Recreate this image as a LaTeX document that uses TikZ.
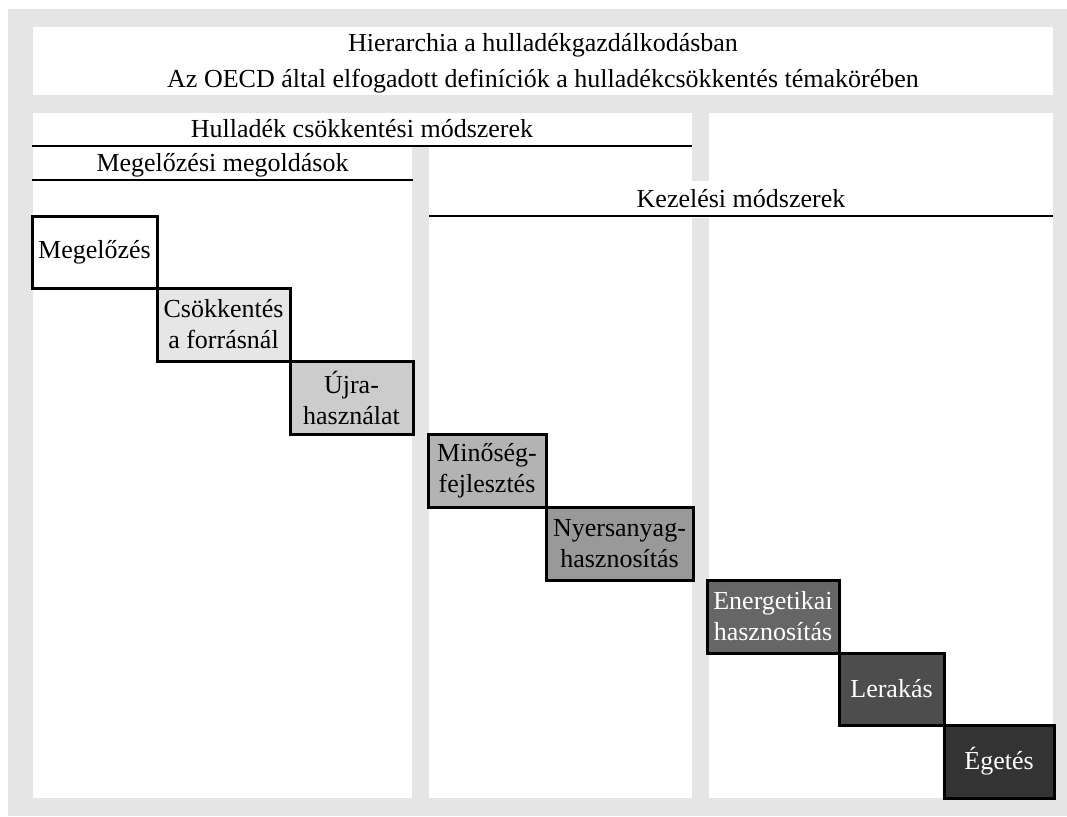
\documentclass[tikz,border=0pt]{standalone}
\usepackage{fontspec}
\setmainfont{Liberation Serif}
\definecolor{bg}{HTML}{E5E5E5}
\definecolor{s1}{HTML}{FFFFFF}
\definecolor{s2}{HTML}{E6E6E6}
\definecolor{s3}{HTML}{CCCCCC}
\definecolor{s4}{HTML}{B3B3B3}
\definecolor{s5}{HTML}{999999}
\definecolor{s6}{HTML}{666666}
\definecolor{s7}{HTML}{4D4D4D}
\definecolor{s8}{HTML}{333333}
\begin{document}
\begin{tikzpicture}[x=1pt,y=-1pt,
  stepbox/.style={draw=black, line width=3pt, inner sep=0pt, align=center,
    font=\fontsize{26}{31}\selectfont},
  lbl/.style={anchor=base, inner sep=0pt, font=\fontsize{26}{31}\selectfont},
  rule/.style={line width=2.4pt, black}]
\useasboundingbox (0,0) rectangle (1067,816);
% background and panels
\fill[bg] (8,9) rectangle (1067,816);
\fill[white] (33,27) rectangle (1053,95);
\fill[white] (33,113) rectangle (692,146);
\fill[white] (709,113) rectangle (1053,181);
\fill[white] (33,146) rectangle (412,798);
\fill[white] (429,146) rectangle (692,798);
\fill[white] (429,181) rectangle (1053,218);
\fill[white] (709,181) rectangle (1053,798);
% titles
\node[lbl] (t1) at (543,52) {Hierarchia a hulladékgazdálkodásban};
\node[lbl] (t2) at (543,87) {Az OECD által elfogadott definíciók a hulladékcsökkentés témakörében};
\node[lbl] (h1) at (362,137) {Hulladék csökkentési módszerek};
\node[lbl] (h2) at (222.5,171) {Megelőzési megoldások};
\node[lbl] (h3) at (741,207) {Kezelési módszerek};
% rules
\coordinate (r1a) at (32,146); \coordinate (r1b) at (692,146);
\coordinate (r2a) at (32,180); \coordinate (r2b) at (413,180);
\coordinate (r3a) at (429,216); \coordinate (r3b) at (1053,216);
\draw[rule] (r1a) -- (r1b);
\draw[rule] (r2a) -- (r2b);
\draw[rule] (r3a) -- (r3b);
% steps
\node[stepbox, fill=s1, minimum width=125pt, minimum height=72pt] (m1) at (94.5,252) {Megelőzés};
\node[stepbox, fill=s2, minimum width=133pt, minimum height=73pt] (m2) at (223.5,324.5) {Csökkentés\\a forrásnál};
\node[stepbox, fill=s3, minimum width=123pt, minimum height=73pt] (m3) at (351.5,397.5) {Újra-\\használat};
\node[stepbox, fill=s4, minimum width=118pt, minimum height=73pt] (m4) at (487,470.5) {Minőség-\\fejlesztés};
\node[stepbox, fill=s5, minimum width=147pt, minimum height=73pt] (m5) at (619.5,543.5) {Nyersanyag-\\hasznosítás};
\node[stepbox, fill=s6, text=white, minimum width=132pt, minimum height=73pt] (m6) at (773,616.5) {Energetikai\\hasznosítás};
\node[stepbox, fill=s7, text=white, minimum width=105pt, minimum height=72pt] (m7) at (891.5,689) {Lerakás};
\node[stepbox, fill=s8, text=white, minimum width=110pt, minimum height=73pt] (m8) at (999,761.5) {Égetés};
\end{tikzpicture}
\end{document}
